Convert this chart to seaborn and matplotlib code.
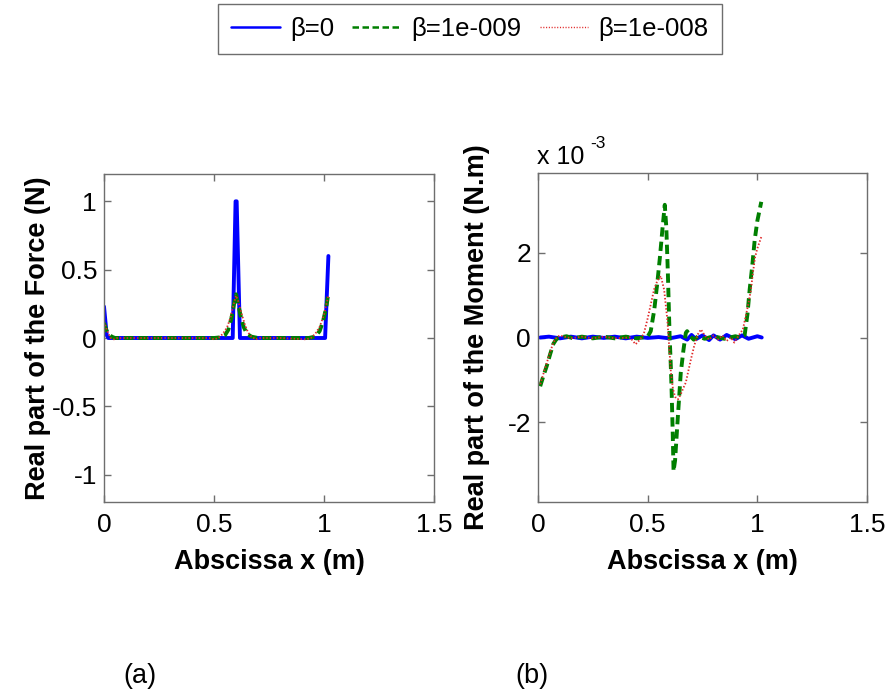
import matplotlib
matplotlib.use("Agg")
import matplotlib.pyplot as plt
import seaborn as sns
import pandas as pd
from matplotlib.lines import Line2D
from matplotlib.ticker import FuncFormatter

# ---------------- data ----------------
series_labels = ["β=0", "β=1e-009", "β=1e-008"]

# (a) Real part of the Force (N)
force_b0_x = [0.0, 0.0125, 0.02, 0.585, 0.598, 0.603, 0.618, 1.005, 1.02]
force_b0_y = [0.23, 0.02, 0.0, 0.0, 1.0, 1.0, 0.0, 0.0, 0.6]

force_b9_x = [0.0, 0.01, 0.02, 0.035, 0.05, 0.2, 0.4, 0.5, 0.53, 0.55, 0.565, 0.58, 0.59, 0.6,
              0.61, 0.62, 0.635, 0.65, 0.67, 0.7, 0.8, 0.93, 0.96, 0.98, 0.995, 1.01, 1.02]
force_b9_y = [0.11, 0.06, 0.03, 0.01, 0.0, 0.0, 0.0, 0.0, 0.005, 0.02, 0.06, 0.15, 0.24, 0.32,
              0.25, 0.17, 0.08, 0.03, 0.01, 0.0, 0.0, 0.0, 0.01, 0.05, 0.12, 0.22, 0.33]

force_b8_x = [0.0, 0.015, 0.03, 0.045, 0.06, 0.2, 0.4, 0.48, 0.5, 0.52, 0.54, 0.56, 0.575, 0.59,
              0.6, 0.61, 0.625, 0.64, 0.655, 0.67, 0.69, 0.71, 0.8, 0.92, 0.94, 0.96, 0.98, 1.0, 1.02]
force_b8_y = [0.12, 0.05, 0.0, -0.01, 0.0, 0.0, 0.0, 0.0, -0.01, 0.0, 0.03, 0.08, 0.15, 0.25,
              0.31, 0.27, 0.18, 0.1, 0.04, 0.01, -0.01, 0.0, 0.0, -0.01, 0.0, 0.03, 0.08, 0.17, 0.31]

# (b) Real part of the Moment (N.m), values given in units of 1e-3 N.m
moment_scale = 1e-3
moment_b0_x = [0.01, 0.05, 0.1, 0.15, 0.2, 0.25, 0.3, 0.35, 0.4, 0.45, 0.5, 0.55, 0.6, 0.65,
               0.68, 0.7, 0.72, 0.75, 0.78, 0.8, 0.83, 0.86, 0.9, 0.93, 0.96, 1.0, 1.02]
moment_b0_y = [0.0, 0.02, -0.02, 0.02, -0.02, 0.02, -0.01, 0.02, -0.02, 0.02, -0.01, 0.01, -0.02,
               0.03, -0.05, 0.06, -0.04, 0.05, -0.06, 0.05, -0.05, 0.06, -0.04, 0.05, -0.03, 0.03, 0.0]

moment_b9_x = [0.01, 0.025, 0.04, 0.055, 0.07, 0.085, 0.1, 0.13, 0.16, 0.2, 0.25, 0.3, 0.35, 0.4,
               0.45, 0.5, 0.514, 0.53, 0.544, 0.556, 0.567, 0.578, 0.585, 0.592, 0.6, 0.605, 0.609,
               0.614, 0.618, 0.625, 0.636, 0.651, 0.663, 0.674, 0.68, 0.69, 0.71, 0.73, 0.76, 0.8,
               0.85, 0.9, 0.92, 0.942, 0.955, 0.965, 0.977, 0.988, 1.0, 1.018]
moment_b9_y = [-1.15, -0.9, -0.67, -0.4, -0.15, -0.03, 0.0, 0.03, -0.02, 0.02, -0.02, 0.02, -0.02,
               0.02, -0.02, 0.02, 0.15, 0.65, 1.29, 1.9, 2.54, 3.13, 2.6, 1.53, 0.05, -0.6, -1.22,
               -2.2, -3.15, -2.9, -2.0, -0.83, -0.3, 0.11, 0.15, 0.05, -0.05, 0.03, -0.03, 0.03,
               -0.03, 0.03, 0.0, 0.05, 0.55, 1.13, 1.7, 2.3, 2.75, 3.2]

moment_b8_x = [0.01, 0.025, 0.04, 0.055, 0.07, 0.085, 0.1, 0.12, 0.15, 0.2, 0.25, 0.3, 0.35,
               0.42, 0.445, 0.465, 0.483, 0.5, 0.515, 0.529, 0.545, 0.56, 0.575, 0.59, 0.598,
               0.606, 0.615, 0.625, 0.638, 0.65, 0.662, 0.674, 0.685, 0.697, 0.712, 0.728, 0.743,
               0.76, 0.78, 0.8, 0.82, 0.84, 0.86, 0.88, 0.895, 0.915, 0.934, 0.945, 0.957, 0.97,
               0.98, 0.99, 1.0, 1.018]
moment_b8_y = [-1.1, -0.85, -0.6, -0.35, -0.12, 0.0, 0.05, 0.02, -0.02, 0.02, -0.02, 0.02, -0.02,
               0.0, -0.16, -0.05, 0.1, 0.45, 0.8, 1.13, 1.35, 1.45, 1.13, 0.4, -0.2, -0.83, -1.2,
               -1.4, -1.46, -1.35, -1.2, -1.06, -0.8, -0.52, -0.2, 0.07, 0.19, 0.05, -0.05, 0.05,
               -0.05, 0.05, -0.08, 0.0, -0.12, 0.05, 0.19, 0.45, 0.74, 1.1, 1.53, 1.9, 2.1, 2.37]

x_ticks = [0, 0.5, 1, 1.5]
x_tick_labels = ["0", "0.5", "1", "1.5"]
force_ticks = [-1, -0.5, 0, 0.5, 1]
force_tick_labels = ["-1", "-0.5", "0", "0.5", "1"]
moment_ticks = [-2e-3, 0, 2e-3]

# ---------------- style ----------------
sns.set_style("white")
plt.rcParams["font.family"] = ["Liberation Sans", "DejaVu Sans"]
plt.rcParams["text.color"] = "black"
plt.rcParams["axes.labelcolor"] = "black"

colors = ["#0000ff", "#007f00", "#e02828"]
styles = [dict(linestyle="-", linewidth=2.8),
          dict(linestyle=(0, (2.4, 1.3)), linewidth=2.8),
          dict(linestyle=(0, (0.8, 1.1)), linewidth=1.3)]
frame_color = "#6e6e6e"

fig = plt.figure(figsize=(8.86, 6.95), dpi=100)
ax1 = fig.add_axes([104 / 886, 1 - 502 / 695, 330 / 886, 328 / 695])
ax2 = fig.add_axes([538 / 886, 1 - 502 / 695, 329 / 886, 329 / 695])

force_sets = [(force_b0_x, force_b0_y), (force_b9_x, force_b9_y), (force_b8_x, force_b8_y)]
moment_sets = [(moment_b0_x, moment_b0_y), (moment_b9_x, moment_b9_y), (moment_b8_x, moment_b8_y)]

for i, (xs, ys) in enumerate(force_sets):
    df = pd.DataFrame({"x": xs, "y": ys})
    sns.lineplot(data=df, x="x", y="y", ax=ax1, color=colors[i], sort=False,
                 estimator=None, **styles[i])

for i, (xs, ys) in enumerate(moment_sets):
    df = pd.DataFrame({"x": xs, "y": [v * moment_scale for v in ys]})
    sns.lineplot(data=df, x="x", y="y", ax=ax2, color=colors[i], sort=False,
                 estimator=None, **styles[i])

for ax in (ax1, ax2):
    ax.set_xlim(0, 1.5)
    ax.set_xticks(x_ticks)
    ax.set_xticklabels(x_tick_labels)
    for sp in ax.spines.values():
        sp.set_visible(True)
        sp.set_color(frame_color)
        sp.set_linewidth(1.0)
    ax.tick_params(direction="in", length=5, width=1.0, color=frame_color,
                   top=True, right=True, bottom=True, left=True,
                   labelsize=19, labelcolor="black")
    ax.tick_params(axis="x", pad=8)
    ax.tick_params(axis="y", pad=5)
    ax.set_xlabel("Abscissa x (m)", fontsize=19.5, fontweight="bold", color="black")
    ax.xaxis.set_label_coords(0.5, -0.142)

ax1.set_ylim(-1.2, 1.2)
ax1.set_yticks(force_ticks)
ax1.set_yticklabels(force_tick_labels)
ax1.set_ylabel("Real part of the Force (N)", fontsize=19.5, fontweight="bold", color="black")
ax1.yaxis.set_label_coords(-0.16, 0.5)

ax2.set_ylim(-3.88e-3, 3.88e-3)
ax2.set_yticks(moment_ticks)
ax2.yaxis.set_major_formatter(FuncFormatter(lambda v, p: f"{v / moment_scale:g}"))
ax2.set_ylabel("Real part of the Moment (N.m)", fontsize=19.5, fontweight="bold", color="black")
ax2.yaxis.set_label_coords(-0.146, 0.5)

# MATLAB-style exponent label
fig.text(537 / 886, 1 - 164 / 695, "x 10", fontsize=18, ha="left", va="baseline")
fig.text(590 / 886, 1 - 148 / 695, "-3", fontsize=12.5, ha="left", va="baseline")

# panel captions
fig.text(140 / 886, 1 - 676 / 695, "(a)", fontsize=19.5, ha="center", va="center")
fig.text(532 / 886, 1 - 676 / 695, "(b)", fontsize=19.5, ha="center", va="center")

# legend
handles = [Line2D([], [], color=colors[0], linestyle="-", linewidth=1.8),
           Line2D([], [], color=colors[1], linestyle=(0, (2.6, 1.4)), linewidth=1.8),
           Line2D([], [], color=colors[2], linestyle=(0, (0.8, 1.2)), linewidth=1.0)]
leg = fig.legend(handles, series_labels, loc="center", bbox_to_anchor=(470 / 886, 1 - 29 / 695),
                 ncol=3, fontsize=18.5, frameon=True, fancybox=False, handlelength=1.9,
                 handletextpad=0.4, columnspacing=0.7, borderpad=0.5, borderaxespad=0)
leg.get_frame().set_edgecolor(frame_color)
leg.get_frame().set_linewidth(1.0)
leg.get_frame().set_alpha(1)

fig.savefig("out.png", dpi=100)
